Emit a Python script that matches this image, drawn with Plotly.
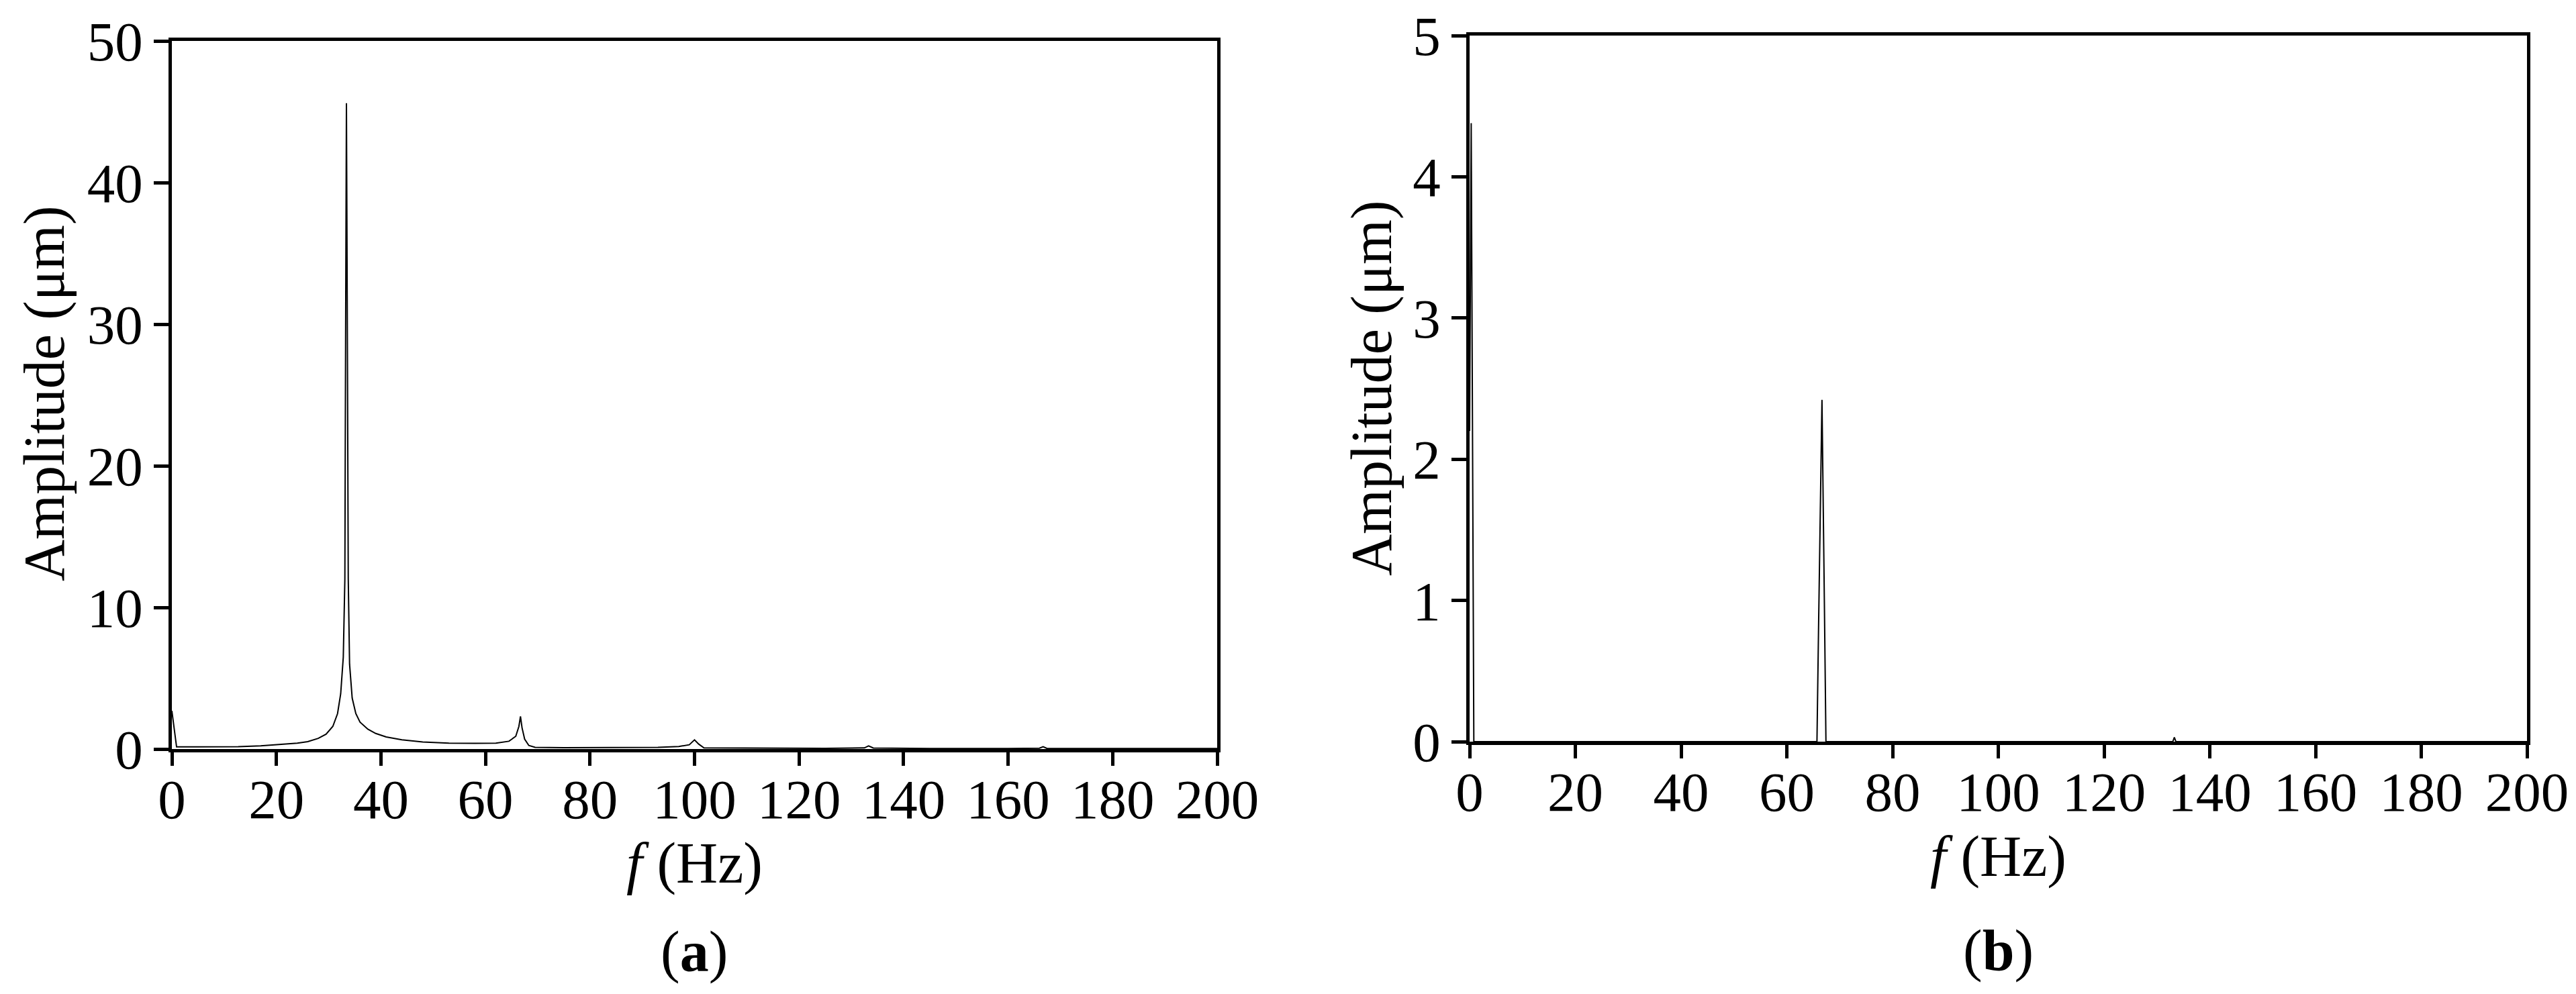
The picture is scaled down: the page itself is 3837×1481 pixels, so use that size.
import plotly.graph_objects as go

# spectrum (a)
freq_a = [0, 0.9, 5, 12.7, 17, 21, 24, 26, 28, 29.5, 30.8, 31.7, 32.3, 32.8, 33.1, 33.25, 33.4,
          33.55, 33.75, 34.0, 34.5, 35.2, 36, 37.5, 39, 41, 44, 48, 53, 58, 62, 64.5,
          65.8, 66.4, 66.7, 67.0, 67.5, 68.3, 69.5, 75, 85, 93, 97, 99, 100.0, 100.8,
          101.8, 110, 125, 132.5, 133.3, 134.2, 145, 160, 166.0, 166.7, 167.4, 180, 200]
amp_a = [2.7, 0.15, 0.15, 0.16, 0.22, 0.32, 0.42, 0.52, 0.75, 1.05, 1.6, 2.5, 3.9, 6.5, 12, 30, 45.6,
         32, 12, 6.0, 3.6, 2.5, 1.9, 1.4, 1.1, 0.85, 0.65, 0.5, 0.42, 0.4, 0.42, 0.55,
         0.9, 1.6, 2.3, 1.5, 0.7, 0.25, 0.12, 0.1, 0.1, 0.12, 0.18, 0.3, 0.65, 0.35,
         0.08, 0.06, 0.05, 0.08, 0.22, 0.07, 0.04, 0.04, 0.06, 0.16, 0.05, 0.03, 0.03]

# spectrum (b)
freq_b = [0, 0.3, 0.8, 30, 65.7, 66.0, 66.65, 67.1, 67.4, 100, 133.0, 133.3, 133.6, 200]
amp_b = [2.2, 4.38, 0.0, 0.0, 0.0, 0.8, 2.42, 1.0, 0.0, 0.0, 0.0, 0.03, 0.0, 0.0]

xticks = [0, 20, 40, 60, 80, 100, 120, 140, 160, 180, 200]
yticks_a = [0, 10, 20, 30, 40, 50]
yticks_b = [0, 1, 2, 3, 4, 5]

W, H = 3837, 1481
FONT = "Liberation Serif"

fig = go.Figure()
fig.add_trace(go.Scatter(x=freq_a, y=amp_a, mode="lines", line=dict(color="black", width=2),
                         xaxis="x", yaxis="y", showlegend=False))
fig.add_trace(go.Scatter(x=freq_b, y=amp_b, mode="lines", line=dict(color="black", width=2),
                         xaxis="x2", yaxis="y2", showlegend=False))

dom_a = [248 / W, 1805 / W]
dom_b = [2181 / W, 3756 / W]
ydom_a = [1 - 1108 / H, 1 - 53 / H]
ydom_b = [1 - 1097 / H, 1 - 45 / H]

tickfont = dict(family=FONT, size=83, color="black")
xax = dict(range=[0, 200], tickvals=xticks, ticks="outside", ticklen=20, tickwidth=4.5,
           tickcolor="black", showline=True, linecolor="black", linewidth=4.5, mirror=True,
           showgrid=False, zeroline=False, automargin=False, ticklabelstandoff=-21,
           tickfont=tickfont)
yax = dict(ticks="outside", ticklen=22, tickwidth=4.5, tickcolor="black", showline=True,
           linecolor="black", linewidth=4.5, mirror=True, showgrid=False, zeroline=False,
           automargin=False, tickfont=tickfont)

fig.update_layout(
    width=W, height=H, plot_bgcolor="white", paper_bgcolor="white",
    margin=dict(l=0, r=0, t=0, b=0),
    xaxis=dict(xax, domain=dom_a, anchor="y"),
    yaxis=dict(yax, domain=ydom_a, range=[0, 50], tickvals=yticks_a, anchor="x"),
    xaxis2=dict(xax, domain=dom_b, anchor="y2"),
    yaxis2=dict(yax, domain=ydom_b, range=[0, 5], tickvals=yticks_b, anchor="x2"),
)

tf = dict(family=FONT, size=86, color="black")
notes = [
    (58 / W, 1 - 578 / H, "Amplitude (μm)", -90),
    (2035 / W, 1 - 570 / H, "Amplitude (μm)", -90),
    (1026 / W, 1 - 1278 / H, "<i>f</i> (Hz)", 0),
    (2968 / W, 1 - 1268 / H, "<i>f</i> (Hz)", 0),
    (1026 / W, 1 - 1410 / H, "(<b>a</b>)", 0),
    (2968 / W, 1 - 1408 / H, "(<b>b</b>)", 0),
]
for x, y, t, ang in notes:
    fig.add_annotation(x=x, y=y, xref="paper", yref="paper", text=t, showarrow=False,
                       textangle=ang, font=tf, xanchor="center", yanchor="middle")

fig.write_html("out.html")
